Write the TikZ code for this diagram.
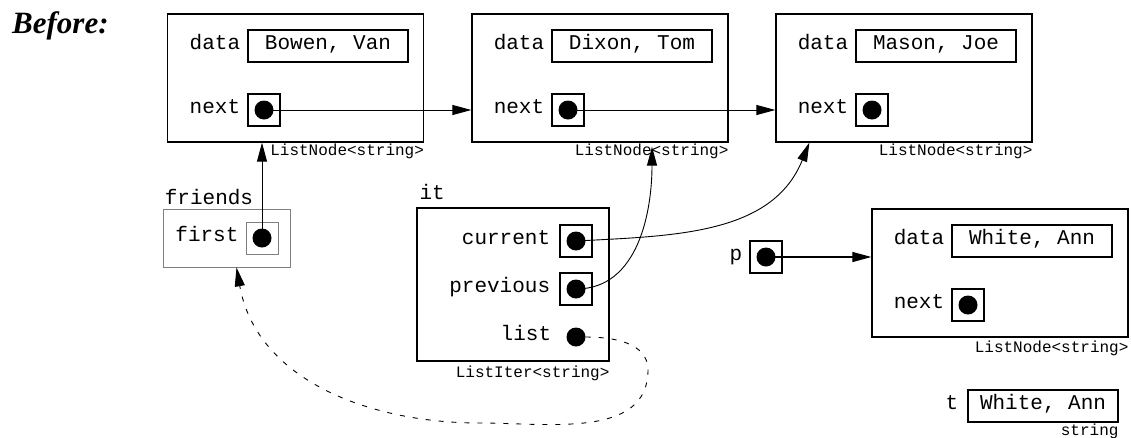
\documentclass[tikz,border=0pt]{standalone}
\usepackage{fontspec}
\setmainfont{Liberation Serif}
\setmonofont{Liberation Mono}
\usetikzlibrary{positioning,arrows.meta}

\begin{document}
\begin{tikzpicture}[
  x=1pt,y=-1pt,
  font=\ttfamily\fontsize{21}{25}\selectfont,
  heading/.style={font=\rmfamily\bfseries\itshape\fontsize{31}{36}\selectfont,inner sep=0pt},
  nodebox/.style={draw,line width=1.3pt,minimum width=256pt,minimum height=128pt,inner sep=0pt},
  iterbox/.style={draw,line width=1.3pt,minimum width=192pt,minimum height=153pt,inner sep=0pt},
  holder/.style={draw=gray,line width=0.7pt,minimum width=127pt,minimum height=58pt,inner sep=0pt},
  databox/.style={draw,line width=1.3pt,minimum width=160pt,minimum height=32pt,inner sep=0pt,text height=0.75em,text depth=0.1em},
  ptrbox/.style={draw,line width=1.3pt,minimum size=32pt,inner sep=0pt},
  thinptr/.style={draw=gray,line width=0.7pt,minimum size=32pt,inner sep=0pt},
  dot/.style={circle,fill,minimum size=19pt,inner sep=0pt},
  field/.style={inner sep=0pt,text height=0.75em,text depth=0.1em},
  typename/.style={font=\ttfamily\fontsize{16}{19}\selectfont,inner sep=0pt,anchor=base east},
  ptr/.style={-{Triangle[length=19pt,width=10pt]},line width=0.9pt},
  backref/.style={ptr,dash pattern=on 5pt off 8pt},
]
  \useasboundingbox (0,0) rectangle (1131,437);

  \node[heading,anchor=base west] (before) at (12,33) {Before:};

  \node[nodebox] (n1) at (295.5,78) {};
  \node[databox] (n1data) at (328,46) {Bowen, Van};
  \node[field,left=7pt of n1data] {data};
  \node[ptrbox] (n1next) at (264,110) {};
  \node[field,left=7pt of n1next] {next};
  \node[dot] (n1dot) at (n1next) {};
  \node[typename] at ([yshift=-13pt]n1.south east) {ListNode<string>};

  \node[nodebox] (n2) at (600,78) {};
  \node[databox] (n2data) at (632,46) {Dixon, Tom};
  \node[field,left=7pt of n2data] {data};
  \node[ptrbox] (n2next) at (568,110) {};
  \node[field,left=7pt of n2next] {next};
  \node[dot] (n2dot) at (n2next) {};
  \node[typename] at ([yshift=-13pt]n2.south east) {ListNode<string>};

  \node[nodebox] (n3) at (904,78) {};
  \node[databox] (n3data) at (936,46) {Mason, Joe};
  \node[field,left=7pt of n3data] {data};
  \node[ptrbox] (n3next) at (872,110) {};
  \node[field,left=7pt of n3next] {next};
  \node[dot] (n3dot) at (n3next) {};
  \node[typename] at ([yshift=-13pt]n3.south east) {ListNode<string>};

  \node[holder] (friends) at (226.5,238) {};
  \node[field,anchor=base west] at ([xshift=2pt,yshift=4pt]friends.north west) {friends};
  \node[thinptr] (firstbox) at (262,238) {};
  \node[field,left=7pt of firstbox] {first};
  \node[dot] (firstdot) at (firstbox) {};

  \node[iterbox] (it) at (513,284.5) {};
  \node[field,anchor=base west] at ([xshift=3pt,yshift=8pt]it.north west) {it};
  \node[ptrbox] (curbox) at (576,241) {};
  \node[field,left=9pt of curbox] {current};
  \node[dot] (curdot) at (curbox) {};
  \node[ptrbox] (prevbox) at (576,289) {};
  \node[field,left=9pt of prevbox] {previous};
  \node[dot] (prevdot) at (prevbox) {};
  \node[dot] (listdot) at (576,337) {};
  \node[field,left=15pt of listdot] {list};
  \node[typename] at ([yshift=-16pt]it.south east) {ListIter<string>};

  \node[ptrbox] (pbox) at (766,257) {};
  \node[field,left=7pt of pbox] {p};
  \node[dot] (pdot) at (pbox) {};

  \node[nodebox] (n4) at (1000,273) {};
  \node[databox] (n4data) at (1032,241) {White, Ann};
  \node[field,left=7pt of n4data] {data};
  \node[ptrbox] (n4next) at (968,305) {};
  \node[field,left=7pt of n4next] {next};
  \node[dot] (n4dot) at (n4next) {};
  \node[typename] at ([yshift=-15pt]n4.south east) {ListNode<string>};

  \node[databox,minimum width=150pt] (tbox) at (1043,406) {White, Ann};
  \node[field,left=9pt of tbox] {t};
  \node[typename] at ([yshift=-13pt]tbox.south east) {string};

  \draw[ptr] (n1dot.center) -- (n1dot -| n2.west);
  \draw[ptr] (n2dot.center) -- (n2dot -| n3.west);
  \draw[ptr] (firstdot.center) -- (firstdot |- n1.south);
  \draw[ptr] (curdot.center) to[out=3,in=-112] ([xshift=34pt]n3.south west);
  \draw[ptr] (prevdot.center) to[out=0,in=-90] ([xshift=52pt,yshift=-4pt]n2.south);
  \draw[ptr,line width=1.2pt] (pdot.center) -- (pdot -| n4.west);

  \coordinate (loopright) at (648,370);
  \coordinate (loopbottom) at (480,423);
  \draw[backref] (listdot.east) to[out=0,in=90] (loopright)
    to[out=-90,in=0] (loopbottom) to[out=180,in=-80] ([xshift=10pt]friends.south);
\end{tikzpicture}
\end{document}
